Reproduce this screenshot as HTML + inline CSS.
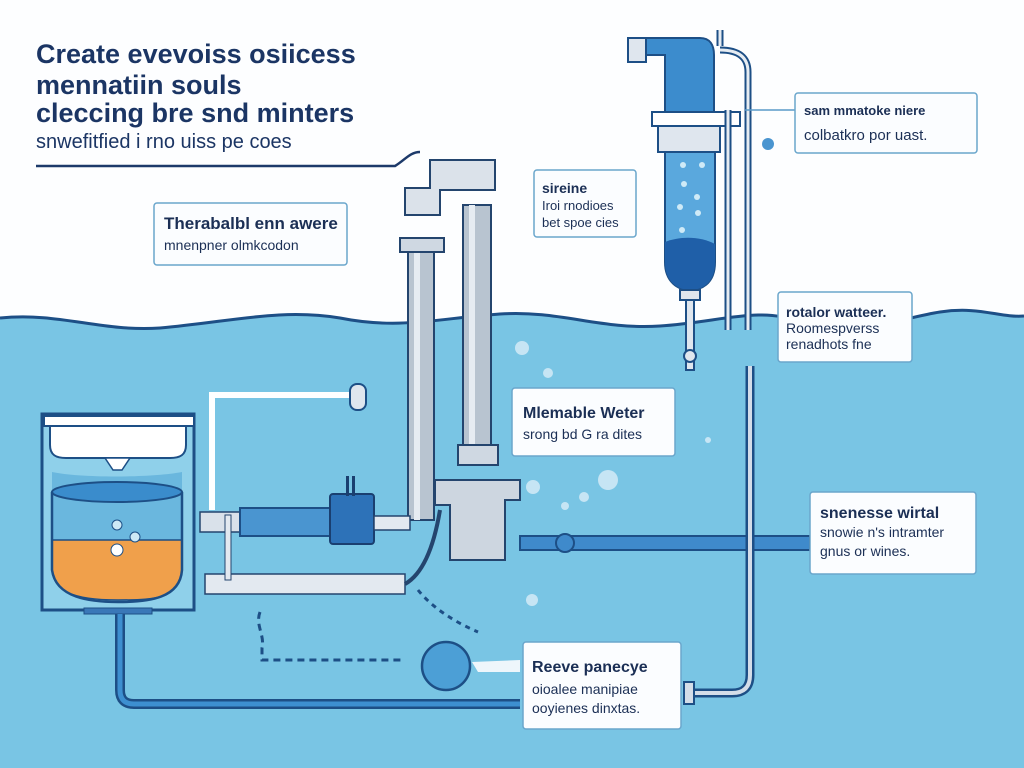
<!DOCTYPE html>
<html><head><meta charset="utf-8"><style>
body{margin:0;width:1024px;height:768px;overflow:hidden;background:#fff;font-family:"Liberation Sans",sans-serif}
svg{display:block}
</style></head><body>
<svg width="1024" height="768" viewBox="0 0 1024 768" xmlns="http://www.w3.org/2000/svg" font-family="Liberation Sans, sans-serif">
<rect width="1024" height="768" fill="#fdfeff"/>
<!-- water -->
<path d="M0,318 C60,312 100,332 160,328 C230,322 280,308 340,318 C400,330 440,318 500,314 C560,310 600,330 660,326 C720,322 760,306 800,322 C850,340 900,318 940,312 C980,306 1000,318 1024,316 L1024,768 L0,768Z" fill="#79c5e4"/>
<path d="M0,318 C60,312 100,332 160,328 C230,322 280,308 340,318 C400,330 440,318 500,314 C560,310 600,330 660,326 C720,322 760,306 800,322 C850,340 900,318 940,312 C980,306 1000,318 1024,316" fill="none" stroke="#1d4f86" stroke-width="3"/>
<!-- title -->
<g fill="#1b3564" font-weight="bold" font-size="27">
<text x="36" y="63">Create evevoiss osiicess</text>
<text x="36" y="94">mennatiin souls</text>
<text x="36" y="122">cleccing bre snd minters</text>
</g>
<text x="36" y="148" font-size="20" fill="#1b3564">snwefitfied  i rno uiss pe coes</text>
<path d="M36,166 L395,166 C405,160 410,152 420,152" stroke="#1d3a6a" stroke-width="2.5" fill="none"/>
<!-- central vertical pipes -->
<rect x="408" y="250" width="26" height="270" fill="#b8c4d0" stroke="#24456e" stroke-width="2"/>
<rect x="414" y="250" width="6" height="270" fill="#e6ecf2"/>
<rect x="463" y="205" width="28" height="255" fill="#b8c4d0" stroke="#24456e" stroke-width="2"/>
<rect x="469" y="205" width="6" height="255" fill="#e6ecf2"/>
<path d="M405,188 L430,188 L430,160 L495,160 L495,190 L465,190 L440,190 L440,215 L405,215Z" fill="#dbe2ea" stroke="#24456e" stroke-width="2"/>
<rect x="400" y="238" width="44" height="14" fill="#cfd8e2" stroke="#24456e" stroke-width="2"/>
<rect x="458" y="445" width="40" height="20" fill="#cfd8e2" stroke="#24456e" stroke-width="2"/>
<path d="M435,480 L520,480 L520,500 L505,500 L505,560 L450,560 L450,505 L435,505Z" fill="#cdd6e0" stroke="#24456e" stroke-width="2"/>
<!-- tank -->
<rect x="42" y="414" width="152" height="196" fill="#8fd0ea" stroke="#1d4f86" stroke-width="3"/>
<path d="M52,462 L52,508 C52,560 56,598 118,598 C178,598 182,560 182,508 L182,472 C150,478 80,478 52,472Z" fill="#6ab7de"/>
<path d="M52,540 L182,540 L182,570 C178,598 160,600 118,600 C70,600 54,590 52,570Z" fill="#f0a04b" stroke="#1d4f86" stroke-width="1.5"/>
<ellipse cx="117" cy="492" rx="65" ry="10" fill="#3a8ccc" stroke="#1d4f86" stroke-width="2"/>
<path d="M52,492 L52,570 C56,598 90,602 118,602 C150,602 180,598 182,570 L182,492" fill="none" stroke="#1d4f86" stroke-width="2.5"/>
<rect x="44" y="416" width="150" height="10" fill="#fff" stroke="#1d4f86" stroke-width="2"/>
<path d="M50,426 L186,426 L186,445 C186,455 180,458 170,458 L66,458 C56,458 50,455 50,445Z" fill="#fff" stroke="#1d4f86" stroke-width="2"/>
<path d="M105,458 L130,458 L122,470 L113,470Z" fill="#fff" stroke="#1d4f86" stroke-width="1.5"/>
<circle cx="117" cy="550" r="6" fill="#fff" stroke="#1d4f86"/>
<circle cx="117" cy="525" r="5" fill="#cde9f6" stroke="#1d4f86"/>
<circle cx="135" cy="537" r="5" fill="#cde9f6" stroke="#1d4f86"/>
<rect x="84" y="608" width="68" height="6" fill="#3a78b8" stroke="#1d4f86"/>
<!-- bottom pipe -->
<path d="M120,614 L120,690 Q120,704 134,704 L520,704" fill="none" stroke="#1d4f86" stroke-width="10"/>
<path d="M120,614 L120,690 Q120,704 134,704 L520,704" fill="none" stroke="#3d8fd0" stroke-width="5"/>
<!-- white pipe to nozzle -->
<path d="M212,510 L212,395 L350,395" fill="none" stroke="#fff" stroke-width="6"/>
<rect x="350" y="384" width="16" height="26" rx="7" fill="#dfe6ee" stroke="#1d4f86" stroke-width="2"/>
<!-- horizontal pipe with filter -->
<rect x="200" y="512" width="40" height="20" fill="#d9e1ea" stroke="#24456e" stroke-width="1.5"/>
<rect x="240" y="508" width="90" height="28" fill="#4a95d0" stroke="#1d4f86" stroke-width="2"/>
<rect x="330" y="494" width="44" height="50" rx="3" fill="#2d72b8" stroke="#1a3f70" stroke-width="2"/>
<rect x="346" y="476" width="3" height="20" fill="#1a3f70"/><rect x="352" y="476" width="3" height="20" fill="#1a3f70"/>
<rect x="374" y="516" width="36" height="14" fill="#e3e9f0" stroke="#24456e" stroke-width="1.5"/>
<rect x="205" y="574" width="200" height="20" fill="#e3e9f0" stroke="#24456e" stroke-width="1.5"/>
<rect x="225" y="515" width="6" height="65" fill="#e3e9f0" stroke="#24456e"/>
<path d="M405,584 Q430,570 440,510" fill="none" stroke="#24456e" stroke-width="4"/>
<!-- right horizontal pipe -->
<rect x="520" y="536" width="290" height="14" fill="#3f8acb" stroke="#1d4f86" stroke-width="2"/>
<circle cx="565" cy="543" r="9" fill="#3f8acb" stroke="#1d4f86" stroke-width="2"/>
<!-- right vertical pipe -->
<path d="M750,366 L750,675 Q750,693 732,693 L690,693" fill="none" stroke="#1d4f86" stroke-width="9"/>
<path d="M750,366 L750,675 Q750,693 732,693 L690,693" fill="none" stroke="#d4dde8" stroke-width="4"/>
<rect x="684" y="682" width="10" height="22" fill="#d4dde8" stroke="#1d4f86" stroke-width="2"/>
<!-- dashed path and ball -->
<path d="M260,612 C255,625 265,635 262,648 L262,660 L405,660" fill="none" stroke="#1d4f86" stroke-width="3" stroke-dasharray="7,5"/>
<path d="M418,590 C430,605 450,620 478,632" fill="none" stroke="#1d4f86" stroke-width="3" stroke-dasharray="5,5"/>
<circle cx="446" cy="666" r="24" fill="#4c9fd6" stroke="#1d4f86" stroke-width="2.5"/>
<path d="M472,662 L520,660 L520,672 L478,672Z" fill="#eef6fb"/>
<!-- bubbles -->
<g fill="#cfe9f6" opacity="0.9">
<circle cx="522" cy="348" r="7"/><circle cx="608" cy="480" r="10"/><circle cx="584" cy="497" r="5"/><circle cx="565" cy="506" r="4"/><circle cx="533" cy="487" r="7"/><circle cx="532" cy="600" r="6"/><circle cx="548" cy="373" r="5"/><circle cx="708" cy="440" r="3"/>
</g>
<!-- tall filter column -->
<path d="M628,40 L645,40 L645,38 L700,38 C710,38 714,45 714,55 L714,112 L665,112 L665,55 L645,55 L645,60 L628,60Z" fill="#3c8ccd" stroke="#1d4f86" stroke-width="2"/>
<rect x="628" y="38" width="18" height="24" fill="#dfe6ee" stroke="#1d4f86" stroke-width="2"/>
<rect x="652" y="112" width="88" height="14" fill="#fff" stroke="#1d4f86" stroke-width="2"/>
<rect x="658" y="126" width="62" height="26" fill="#dfe6ee" stroke="#1d4f86" stroke-width="2"/>
<path d="M665,152 L715,152 L715,262 C715,285 700,290 690,290 C678,290 665,282 665,262Z" fill="#5aa8dd" stroke="#1d4f86" stroke-width="2"/>
<path d="M665,242 C680,236 700,236 715,244 L715,262 C715,285 700,290 690,290 C678,290 665,282 665,262Z" fill="#1f5fa8"/>
<g fill="#cfeaf7"><circle cx="683" cy="165" r="3"/><circle cx="702" cy="165" r="3"/><circle cx="684" cy="184" r="3"/><circle cx="697" cy="197" r="3"/><circle cx="680" cy="207" r="3"/><circle cx="698" cy="213" r="3"/><circle cx="682" cy="230" r="3"/></g>
<rect x="680" y="290" width="20" height="10" fill="#dfe6ee" stroke="#1d4f86" stroke-width="2"/>
<rect x="686" y="300" width="8" height="70" fill="#dfe6ee" stroke="#1d4f86" stroke-width="2"/>
<circle cx="690" cy="356" r="6" fill="#dfe6ee" stroke="#1d4f86" stroke-width="2"/>
<path d="M720,46 L720,30 M720,50 Q748,50 748,72 L748,330 M728,330 L728,110" fill="none" stroke="#1d4f86" stroke-width="7"/>
<path d="M720,46 L720,30 M720,50 Q748,50 748,72 L748,330 M728,330 L728,110" fill="none" stroke="#e6ecf2" stroke-width="3"/>
<circle cx="768" cy="144" r="6" fill="#4a95d0"/>
<line x1="745" y1="110" x2="795" y2="110" stroke="#5a9ac8" stroke-width="1.5"/>
<!-- labels -->
<g stroke="#6aa6cc" stroke-width="1.5" fill="#fbfdff">
<rect x="154" y="203" width="193" height="62" rx="3"/>
<rect x="534" y="170" width="102" height="67" rx="3"/>
<rect x="795" y="93" width="182" height="60" rx="3"/>
<rect x="778" y="292" width="134" height="70" rx="3"/>
<rect x="512" y="388" width="163" height="68" rx="3"/>
<rect x="810" y="492" width="166" height="82" rx="3"/>
<rect x="523" y="642" width="158" height="87" rx="3"/>
</g>
<g fill="#1b2f55">
<text x="164" y="229" font-size="17" font-weight="bold">Therabalbl enn awere</text>
<text x="164" y="250" font-size="14">mnenpner olmkcodon</text>
<text x="542" y="193" font-size="14" font-weight="bold">sireine</text>
<text x="542" y="210" font-size="13">Iroi rnodioes</text>
<text x="542" y="227" font-size="13">bet spoe cies</text>
<text x="804" y="115" font-size="13" font-weight="bold">sam mmatoke niere</text>
<text x="804" y="140" font-size="15">colbatkro por uast.</text>
<text x="786" y="317" font-size="14" font-weight="bold">rotalor watteer.</text>
<text x="786" y="333" font-size="14">Roomespverss</text>
<text x="786" y="349" font-size="14">renadhots fne</text>
<text x="523" y="418" font-size="16" font-weight="bold">Mlemable Weter</text>
<text x="523" y="439" font-size="14">srong bd G ra dites</text>
<text x="820" y="518" font-size="16" font-weight="bold">snenesse wirtal</text>
<text x="820" y="537" font-size="14">snowie n's intramter</text>
<text x="820" y="556" font-size="14">gnus or wines.</text>
<text x="532" y="672" font-size="16" font-weight="bold">Reeve panecye</text>
<text x="532" y="694" font-size="14">oioalee manipiae</text>
<text x="532" y="713" font-size="14">ooyienes dinxtas.</text>
</g>
</svg>
</body></html>
